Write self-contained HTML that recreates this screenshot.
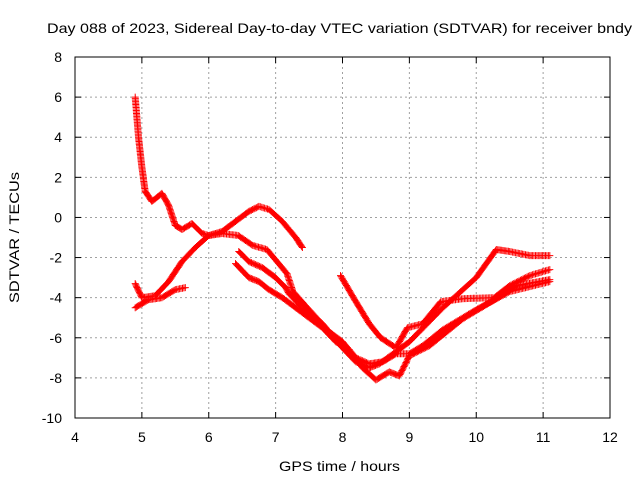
<!DOCTYPE html>
<html><head><meta charset="utf-8"><style>
body{margin:0;background:#fff}
svg{display:block;font-family:"Liberation Sans",sans-serif}
</style></head><body>
<svg id="chart" width="640" height="480" viewBox="0 0 640 480">
<text x="47" y="33" font-size="14" textLength="585" lengthAdjust="spacingAndGlyphs">Day 088 of 2023, Sidereal Day-to-day VTEC variation (SDTVAR) for receiver bndy</text>
<text x="279" y="471" font-size="14" textLength="121" lengthAdjust="spacingAndGlyphs">GPS time / hours</text>
<text transform="translate(19,303) rotate(-90)" font-size="14" textLength="131" lengthAdjust="spacingAndGlyphs">SDTVAR / TECUs</text>
<g id="grid"></g><g id="ticks"></g><g id="marks"></g>
<rect x="75" y="57" width="535" height="361" fill="none" stroke="#000" stroke-width="1"/>
</svg>
<script>
const xTicks=[4,5,6,7,8,9,10,11,12];
const yTicks=[8,6,4,2,0,-2,-4,-6,-8,-10];
const seriesA=[[4.9,6],[4.95,4],[5.0,2.5],[5.05,1.3],[5.15,0.8],[5.3,1.2],[5.4,0.6],[5.5,-0.4],[5.6,-0.6],[5.75,-0.3],[5.9,-0.8],[6.0,-0.9],[6.2,-0.8],[6.44,-0.9],[6.66,-1.4],[6.87,-1.6],[7.17,-2.8],[7.26,-3.7],[7.5,-4.6],[7.8,-5.7],[8.0,-6.2],[8.2,-7.0],[8.4,-7.3],[8.6,-7.2],[8.8,-6.8],[9.0,-6.8],[9.2,-6.4],[9.5,-5.6],[10.0,-4.6],[10.5,-3.7],[11.1,-3.2]];
const seriesB=[[4.9,-3.3],[5.0,-4.0],[5.2,-3.9],[5.4,-3.2],[5.6,-2.2],[5.8,-1.5],[6.0,-0.9],[6.2,-0.7],[6.4,-0.2],[6.6,0.3],[6.75,0.55],[6.9,0.4],[7.1,-0.2],[7.3,-1.0],[7.4,-1.5]];
const seriesC=[[4.9,-4.5],[5.1,-4.1],[5.3,-4.0],[5.5,-3.6],[5.65,-3.5]];
const seriesD=[[6.45,-1.7],[6.6,-2.2],[6.8,-2.5],[7.0,-3.0],[7.15,-3.5],[7.2,-3.8],[7.4,-4.5],[7.7,-5.3],[8.0,-6.5],[8.2,-7.2],[8.4,-7.5],[8.55,-7.3],[8.8,-6.7],[9.0,-6.2],[9.5,-4.5],[10.0,-3.0],[10.3,-1.6],[10.5,-1.7],[10.8,-1.9],[11.1,-1.9]];
const seriesE=[[6.4,-2.3],[6.6,-3.0],[6.75,-3.2],[6.9,-3.6],[7.1,-4.0],[7.3,-4.5],[7.5,-5.0],[7.7,-5.5],[7.9,-6.2],[8.1,-6.6],[8.3,-7.5],[8.5,-8.1],[8.7,-7.7],[8.85,-7.9],[9.0,-6.9],[9.3,-6.4],[9.8,-5.05],[10.3,-4.05],[10.6,-3.4],[11.1,-3.1]];
const seriesF=[[7.97,-2.9],[8.2,-4.2],[8.4,-5.3],[8.57,-6.0],[8.8,-6.5],[8.97,-5.5],[9.2,-5.3],[9.47,-4.2],[9.8,-4.05],[10.27,-4.0],[10.5,-3.4],[10.8,-2.9],[11.1,-2.6]];
const allSeries=[seriesA,seriesB,seriesC,seriesD,seriesE,seriesF];
const NS="http://www.w3.org/2000/svg";
const X0=75,X1=610,Y0=418,Y1=57;
function sx(h){return X0+(h-4)/(12-4)*(X1-X0);}
function sy(v){return Y0-(v+10)/(8+10)*(Y0-Y1);}
const grid=document.getElementById('grid'),ticks=document.getElementById('ticks'),marks=document.getElementById('marks');
function mk(tag,attrs,parent){const e=document.createElementNS(NS,tag);for(const k in attrs)e.setAttribute(k,attrs[k]);parent.appendChild(e);return e;}
xTicks.forEach(t=>{const x=sx(t);
 if(t>4&&t<12){const g=mk('line',{x1:x,x2:x,y1:Y1,y2:Y0,stroke:'#a0a0a0','stroke-dasharray':'2,3'},grid);
 
 }
 const tx=mk('text',{x:x,y:442,'text-anchor':'middle','font-size':'14'},ticks);tx.textContent=t;
 
 
 mk('line',{x1:x,x2:x,y1:Y0,y2:Y0-6,stroke:'#000'},ticks);mk('line',{x1:x,x2:x,y1:Y1,y2:Y1+6,stroke:'#000'},ticks);});
yTicks.forEach(t=>{const y=sy(t);
 if(t>-10&&t<8){const g=mk('line',{x1:X0,x2:X1,y1:y,y2:y,stroke:'#a0a0a0','stroke-dasharray':'2,3'},grid);
 
 }
 const tx=mk('text',{x:62,y:y+5,'text-anchor':'end','font-size':'14'},ticks);tx.textContent=t;
 
 
 mk('line',{x1:X0,x2:X0+6,y1:y,y2:y,stroke:'#000'},ticks);mk('line',{x1:X1,x2:X1-6,y1:y,y2:y,stroke:'#000'},ticks);});
allSeries.forEach((s,si)=>{
 const g=mk('g',{},marks);
 
 
 let d='';
 for(let i=0;i<s.length-1;i++){
  const ax=sx(s[i][0]),ay=sy(s[i][1]),bx=sx(s[i+1][0]),by=sy(s[i+1][1]);
  const n=Math.max(1,Math.ceil(Math.hypot(bx-ax,by-ay)/1.5));
  for(let k=0;k<(i==s.length-2?n+1:n);k++){const x=ax+(bx-ax)*k/n,y=ay+(by-ay)*k/n;
   d+='M'+(x-3.5).toFixed(1)+' '+y.toFixed(1)+'h7M'+x.toFixed(1)+' '+(y-3.5).toFixed(1)+'v7';}
 }
 mk('path',{d:d,stroke:'#ff0000','stroke-width':'1',fill:'none'},g);
});
</script>
</body></html>
